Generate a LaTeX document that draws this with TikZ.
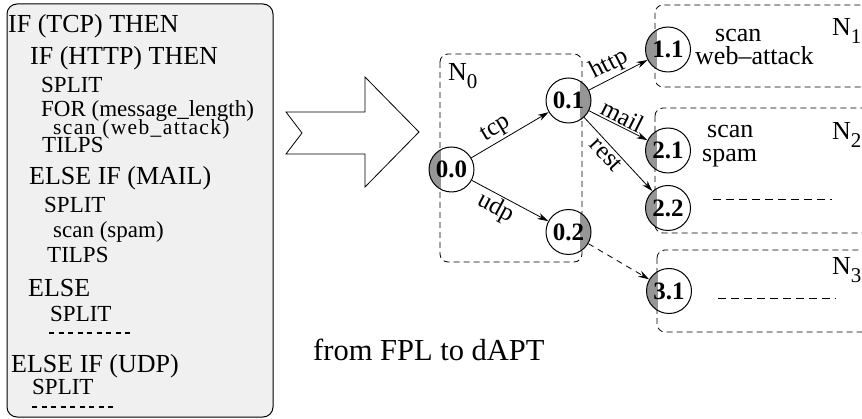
\documentclass[tikz,border=0pt]{standalone}
\usepackage{fontspec}
\setmainfont{Liberation Serif}
\usetikzlibrary{arrows.meta}
\definecolor{boxbg}{RGB}{240,240,240}
\definecolor{halfgray}{RGB}{150,150,150}
\newcommand{\fsz}[1]{\fontsize{#1}{#1}\selectfont}
\begin{document}
\begin{tikzpicture}[x=1pt,y=-1pt,
  codebig/.style={anchor=base west,inner sep=0,font=\fsz{26}},
  codemid/.style={anchor=base west,inner sep=0,font=\fsz{23}},
  plain/.style={anchor=base west,inner sep=0,font=\fsz{26}},
  state/.style={circle,draw,line width=1pt,minimum size=45pt,inner sep=0,font=\fsz{25}\bfseries},
  grayleft/.style={path picture={\fill[halfgray] (path picture bounding box.south west) rectangle ([xshift=-11pt]path picture bounding box.north);}},
  grayright/.style={path picture={\fill[halfgray] (path picture bounding box.south east) rectangle ([xshift=11pt]path picture bounding box.north);}},
  edge/.style={-{Stealth[length=11pt,width=6.5pt]},line width=0.8pt},
  elabel/.style={font=\fsz{25},inner sep=1.5pt,sloped},
  netbox/.style={draw,dashed,dash pattern=on 6pt off 4pt,line width=0.8pt,rounded corners=8pt},
  dots/.style={line width=1.1pt,dash pattern=on 5pt off 4.5pt},
  rdots/.style={line width=1pt,dash pattern=on 8pt off 5pt},
]
\useasboundingbox (0,0) rectangle (862,419);
\clip (0,0) rectangle (862,419);

% left code box
\draw[fill=boxbg,line width=1pt,rounded corners=10pt] (7,4) rectangle (273,417);
\node[codebig] (c1) at (8,33) {IF (TCP) THEN};
\node[codebig] (c2) at (30,65) {IF (HTTP) THEN};
\node[codemid] (c3) at (41,93) {SPLIT};
\node[codemid] (c4) at (41,117) {FOR (message\_length)};
\node[codemid,font=\fsz{21.5}\addfontfeature{LetterSpace=6.4}] (c5) at (53,135) {scan (web\_attack)};
\node[codemid] (c6) at (42,153) {TILPS};
\node[codebig] (c7) at (29,185) {ELSE IF (MAIL)};
\node[codemid] (c8) at (44,213) {SPLIT};
\node[codemid] (c9) at (53,238) {scan (spam)};
\node[codemid] (c10) at (47,263) {TILPS};
\node[codebig] (c11) at (28,297) {ELSE};
\node[codemid] (c12) at (50,322) {SPLIT};
\draw[dots] (49,333) -- (133,333);
\node[codebig] (c13) at (11,373) {ELSE IF (UDP)};
\node[codemid] (c14) at (32,395) {SPLIT};
\draw[dots] (32,407) -- (116,407);

% big arrow
\draw[line width=0.8pt,fill=white] (286,112) -- (365,112) -- (365,77) -- (419,132) -- (365,187) -- (365,154) -- (286,154) -- (302,133) -- cycle;

% network boxes
\draw[netbox] (440,54) rectangle (582,262);
\draw[netbox] (655,5) rectangle (890,87);
\draw[netbox] (655,108) rectangle (890,233);
\draw[netbox] (657,250) rectangle (890,332);

\node[plain] (lN0) at (448,81) {N\raisebox{-0.3em}{\fsz{21}0}};
\node[plain] (lN1) at (832,36) {N\raisebox{-0.3em}{\fsz{21}1}};
\node[plain] (lN2) at (832,140) {N\raisebox{-0.3em}{\fsz{21}2}};
\node[plain] (lN3) at (832,275) {N\raisebox{-0.3em}{\fsz{21}3}};

% nodes
\node[state,grayleft] (n00) at (451.5,169.5) {0.0};
\node[state,grayright] (n01) at (568.5,100.5) {0.1};
\node[state,grayright] (n02) at (568.5,232) {0.2};
\node[state,grayleft] (n11) at (668,49.5) {1.1};
\node[state,grayleft] (n21) at (668,150.5) {2.1};
\node[state,grayleft] (n22) at (668,208) {2.2};
\node[state,grayleft] (n31) at (669,291) {3.1};

% texts in boxes
\node[plain] (t1) at (715,42) {scan};
\node[plain] (t2) at (695,65) {web--attack};
\node[plain] (t3) at (707,138) {scan};
\node[plain] (t4) at (702,162) {spam};
\draw[rdots] (713,200) -- (832,200);
\draw[rdots] (718,299) -- (836,299);

% edges
\draw[edge] (n00) -- node[elabel,above,pos=0.4] {tcp} (n01);
\draw[edge] (n00) -- node[elabel,below,pos=0.4] {udp} (n02);
\draw[edge] (n01) -- node[elabel,above,pos=0.45] {http} (n11);
\draw[edge] (n01) -- node[elabel,above,pos=0.5] {mail} (n21);
\draw[edge] (n01) -- node[elabel,below,pos=0.42] {rest} (n22);
\draw[edge,dash pattern=on 6pt off 5pt] (n02) -- (n31);

% caption
\node[anchor=base west,inner sep=0,font=\fsz{30.5}] (cap) at (313,361) {from FPL to dAPT};
\end{tikzpicture}
\end{document}
